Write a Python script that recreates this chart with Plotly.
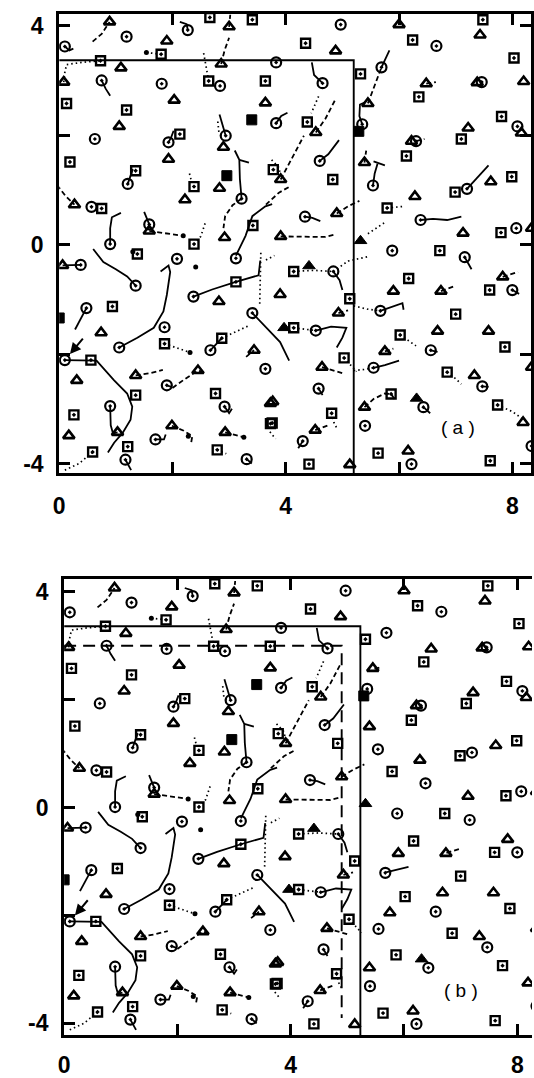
import plotly.graph_objects as go

# ---- particle positions (same configuration in both panels) ----
circ_x = [0.10, 1.19, 2.27, 0.75, 1.81, 2.84, 0.63, 1.93, 2.94, 1.21, 3.22, 0.57, 0.90, 1.59,
          4.97, 6.66, 3.83, 4.65, 5.69, 7.46, 3.83, 5.35, 8.09, 6.30, 5.54, 4.60, 7.20, 4.34, 6.38, 8.07, 5.88,
          0.38, 2.08, 3.12, 1.35, 2.37, 0.48, 1.86, 1.06, 3.41, 2.67, 0.10, 1.90, 2.92, 0.90, 1.70, 1.17, 3.31, 3.64,
          4.84, 4.53, 4.58, 4.30, 7.16, 8.00, 5.67, 6.56, 5.55, 7.47, 6.43, 5.40, 6.22, 8.34]
circ_y = [3.62, 3.80, 3.92, 3.00, 2.94, 2.90, 1.93, 1.87, 1.99, 1.11, 0.84, 0.69, 0.01, 0.37,
          4.02, 3.63, 3.33, 2.95, 3.24, 2.97, 2.22, 2.20, 2.16, 1.89, 1.08, 1.53, 1.02, 0.51, 0.45, 0.30, -0.11,
          -0.37, -0.26, -0.25, -0.75, -0.95, -1.16, -1.51, -1.88, -1.25, -1.93, -2.11, -2.57, -2.96, -2.95, -3.56, -3.93, -3.92, -2.27,
          -0.49, -1.57, -2.63, -3.59, -0.23, -0.83, -1.21, -1.93, -2.25, -2.59, -2.97, -3.31, -4.01, -3.68]

sq_x = [1.80, 2.66, 3.41, 0.73, 2.64, 3.64, 0.13, 1.19, 2.13, 0.19, 1.35, 2.38, 0.75, 2.38, 3.42,
        7.48, 4.35, 6.24, 8.03, 5.32, 6.35, 4.38, 7.81, 7.10, 6.13, 3.78, 4.83, 7.99, 6.99, 5.79, 7.80, 6.72,
        1.38, 3.12, 0.94, 1.86, 2.87, 0.56, 1.35, 2.76, 0.26, 1.21, 0.59, 2.79, 3.73,
        4.14, 5.13, 4.14, 5.03, 4.81, 3.76, 4.41, 6.17, 7.60, 7.00, 6.02, 7.87, 6.85, 5.86, 7.74, 5.63, 7.61]
sq_y = [3.48, 4.15, 4.11, 3.36, 2.99, 2.99, 2.58, 2.46, 2.02, 1.51, 1.35, 1.06, 0.66, 0.01, 0.35,
        4.11, 3.68, 3.74, 3.41, 3.12, 2.70, 2.24, 2.34, 1.93, 1.62, 1.37, 1.19, 1.24, 0.96, 0.67, 0.22, -0.11,
        -0.17, -0.68, -1.13, -1.81, -1.71, -2.11, -2.75, -2.72, -3.11, -3.69, -3.79, -3.75, -3.27,
        -0.49, -0.99, -1.52, -2.07, -3.08, -3.26, -4.01, -0.62, -0.83, -1.27, -1.65, -1.87, -2.33, -2.73, -2.93, -3.81, -3.95]

tri_x = [0.89, 1.90, 3.00, 2.86, 1.09, 0.08, 2.03, 3.64, 1.06, 2.90, 1.93, 2.83, 2.22, 0.27, 1.59, 2.92,
         6.00, 4.88, 7.43, 6.48, 7.38, 8.20, 4.53, 5.45, 8.16, 7.22, 6.22, 5.39, 3.91, 7.62, 6.28, 4.90, 7.13, 3.91, 8.34,
         0.06, 2.82, 0.74, 3.44, 0.31, 1.35, 2.45, 1.03, 0.17, 1.99, 2.93, 3.73,
         3.90, 4.93, 4.64, 3.77, 4.52, 5.13, 7.83, 5.90, 6.74, 6.68, 7.58, 5.75, 7.33, 8.34, 5.39, 8.19, 6.16]
tri_y = [4.07, 3.72, 3.98, 3.30, 3.23, 2.97, 2.64, 2.59, 2.16, 1.78, 1.56, 1.03, 0.82, 0.73, 0.25, 0.13,
         4.02, 3.54, 3.83, 2.94, 2.96, 2.98, 2.05, 2.58, 2.04, 2.13, 1.89, 1.50, 1.19, 1.15, 0.88, 0.57, 0.21, 0.15, 0.30,
         -0.38, -1.04, -1.61, -1.93, -2.48, -2.39, -2.30, -3.43, -3.49, -3.31, -3.43, -2.90,
         -0.91, -1.25, -2.24, -2.87, -3.39, -4.02, -0.59, -0.85, -0.85, -1.58, -1.58, -1.95, -2.39, -2.24, -2.97, -3.25, -3.77]

tri_fill_x = [4.41, 3.97, 6.31, 5.32]
tri_fill_y = [-0.39, -1.52, -2.81, 0.07]
sq_fill_x = [3.40, 0.00, 5.29, 2.96]
sq_fill_y = [2.28, -1.34, 2.07, 1.26]
dot_x = [1.54, 2.19, 2.31, 3.26, 1.30, 2.28, 2.41]
dot_y = [3.51, 0.16, -1.97, -3.52, -0.13, -3.50, -0.41]

# ---- trajectories shared by both panels ----
solid_shared = [
    [(2.27, 3.92), (2.25, 4.03), (2.13, 4.07)],
    [(0.75, 3.00), (0.82, 2.85), (0.90, 2.72)],
    [(2.94, 1.99), (2.88, 2.20), (2.83, 2.38)],
    [(1.93, 1.87), (1.98, 1.97), (2.02, 2.08)],
    [(1.21, 1.11), (1.25, 1.25), (1.30, 1.38)],
    [(3.22, 0.84), (3.19, 1.20), (3.18, 1.55), (3.10, 1.72)],
    [(3.18, 1.55), (3.35, 1.50)],
    [(0.90, 0.01), (0.90, 0.30), (0.93, 0.50), (1.09, 0.58)],
    [(1.50, 0.60), (1.55, 0.48), (1.59, 0.37)],
    [(3.12, -0.20), (3.29, 0.16), (3.41, 0.52), (3.64, 0.70), (3.76, 0.74)],
    [(4.46, 3.33), (4.50, 3.10), (4.65, 2.95)],
    [(3.83, 2.22), (3.92, 2.35), (4.03, 2.41)],
    [(4.60, 1.53), (4.75, 1.65), (4.94, 1.91)],
    [(4.34, 0.51), (4.47, 0.49), (4.61, 0.43)],
    [(0.38, -0.37), (0.06, -0.38)],
    [(0.60, -0.08), (0.78, -0.32), (1.00, -0.45), (1.20, -0.58), (1.35, -0.75)],
    [(1.79, -0.49), (1.93, -0.38), (1.96, -0.50), (1.90, -0.92), (1.84, -1.22), (1.67, -1.52), (1.38, -1.70), (1.06, -1.88)],
    [(2.37, -0.95), (2.70, -0.82), (3.12, -0.68), (3.52, -0.56), (3.55, -0.29)],
    [(0.48, -1.16), (0.38, -1.35), (0.28, -1.55)],
    [(3.41, -1.25), (3.55, -1.40), (3.70, -1.55), (3.90, -1.78), (4.06, -2.12)],
    [(2.67, -1.93), (2.87, -1.71)],
    [(0.10, -2.11), (0.56, -2.11), (0.66, -2.12), (0.97, -2.48), (1.20, -2.72), (1.29, -2.96),
     (1.26, -3.20), (1.12, -3.44), (0.97, -3.62), (0.86, -3.80)],
    [(0.90, -2.95), (0.91, -3.30), (0.95, -3.45), (1.03, -3.43)],
    [(1.70, -3.56), (1.85, -3.56), (1.88, -3.47)],
    [(1.17, -3.93), (1.27, -4.12)],
    [(2.92, -2.96), (3.00, -3.08), (3.05, -3.00)],
    [(3.31, -3.92), (3.40, -4.00)],
    [(4.84, -0.49), (4.95, -0.65), (5.00, -0.83)],
    [(4.53, -1.57), (4.80, -1.50), (5.07, -1.52), (5.00, -1.70), (4.90, -1.88)],
    [(4.30, -3.59), (4.22, -3.72)],
    [(4.58, -2.63), (4.65, -2.75)],
    [(1.90, -2.57), (1.98, -2.60)],
]
dashed_shared = [
    [(0.59, 3.71), (0.75, 3.85), (0.89, 4.07)],
    [(3.00, 3.98), (3.02, 4.20)],
    [(2.86, 3.30), (2.92, 3.55), (3.00, 3.78)],
    [(-0.04, 1.09), (0.12, 0.88), (0.27, 0.73)],
    [(1.59, 0.25), (1.90, 0.20), (2.19, 0.16)],
    [(3.22, 0.84), (3.06, 0.72), (2.93, 0.52), (2.90, 0.30)],
    [(4.53, 2.05), (4.70, 2.30), (4.88, 2.66)],
    [(3.91, 1.19), (4.12, 1.60), (4.32, 1.99)],
    [(4.05, 1.05), (3.88, 0.95), (3.65, 0.73)],
    [(4.90, 0.57), (5.10, 0.70), (5.30, 0.80)],
    [(3.91, 0.15), (4.30, 0.15), (4.70, 0.14), (4.85, 0.18)],
    [(1.35, -2.39), (1.60, -2.35), (1.83, -2.29)],
    [(2.00, -2.62), (2.20, -2.47), (2.45, -2.30), (2.55, -2.33)],
    [(1.99, -3.31), (2.20, -3.40), (2.35, -3.50), (2.33, -3.62)],
    [(2.93, -3.43), (3.26, -3.52)],
    [(3.30, -2.05), (3.44, -1.93)],
    [(4.64, -2.24), (4.85, -2.30), (5.04, -2.36)],
    [(4.52, -3.39), (4.75, -3.30)],
    [(4.93, -1.25), (5.10, -1.20)],
]
dotted_shared = [
    [(0.08, 2.97), (0.10, 3.15), (0.13, 3.29), (0.40, 3.33), (0.73, 3.36)],
    [(1.54, 3.51), (1.80, 3.48)],
    [(2.55, 3.50), (2.60, 3.20), (2.64, 2.99)],
    [(2.80, 2.25), (2.82, 2.05), (2.88, 1.96)],
    [(2.30, 1.30), (2.33, 1.18)],
    [(2.38, 0.01), (2.50, 0.15), (2.58, 0.40)],
    [(4.58, 2.71), (4.45, 2.40)],
    [(3.75, 1.55), (3.87, 1.42), (3.92, 1.25)],
    [(1.86, -1.81), (2.10, -1.90), (2.31, -1.97)],
    [(2.87, -1.71), (3.10, -1.60), (3.35, -1.48)],
    [(3.56, -0.15), (3.55, -0.60), (3.54, -1.10)],
    [(0.10, -4.12), (0.35, -4.00), (0.59, -3.79)],
    [(2.79, -3.75), (2.95, -3.82)],
    [(4.14, -0.49), (4.50, -0.47), (4.84, -0.49)],
    [(4.14, -1.52), (4.53, -1.57)],
    [(5.03, -2.07), (5.15, -2.20), (5.25, -2.32)],
    [(4.81, -3.08), (4.85, -3.25), (4.90, -3.35)],
    [(3.72, -3.42), (3.82, -3.55)],
    [(3.65, -0.28), (3.80, -0.20)],
]

# ---- trajectories drawn only in panel (a) ----
solid_a = [
    [(0.10, 3.62), (0.18, 3.55), (0.25, 3.58)],
    [(5.69, 3.24), (5.76, 3.40), (5.83, 3.55)],
    [(5.35, 2.20), (5.30, 2.35), (5.31, 2.56), (5.40, 2.60)],
    [(5.54, 1.08), (5.57, 1.30), (5.62, 1.48)],
    [(5.55, 1.52), (5.75, 1.45)],
    [(7.20, 1.02), (7.40, 1.25), (7.58, 1.45)],
    [(6.38, 0.45), (6.60, 0.47), (6.85, 0.45), (7.10, 0.51)],
    [(5.67, -1.21), (5.85, -1.15), (6.06, -1.07), (6.08, -1.19)],
    [(5.55, -2.25), (5.75, -2.20), (6.00, -2.12)],
    [(6.43, -2.97), (6.55, -3.08)],
    [(7.16, -0.23), (7.28, -0.45)],
    [(8.00, -0.83), (8.12, -0.90)],
    [(6.56, -1.93), (6.68, -1.96)],
    [(7.47, -2.59), (7.58, -2.60)],
]
dashed_a = [
    [(5.45, 2.58), (5.55, 2.85), (5.69, 3.24)],
    [(5.39, 1.50), (5.42, 1.72)],
    [(5.39, -2.97), (5.55, -2.82), (5.75, -2.72), (5.86, -2.73), (5.92, -2.82)],
    [(6.74, -0.85), (7.00, -0.75)],
    [(7.83, -0.59), (8.10, -0.50)],
    [(5.75, -1.95), (5.90, -1.90)],
    [(6.48, 2.94), (6.65, 2.97)],
    [(6.30, 1.89), (6.45, 1.93)],
]
dotted_a = [
    [(5.79, 0.67), (6.10, 0.70)],
    [(5.45, 0.20), (5.74, 0.40)],
    [(5.20, -1.12), (5.45, -1.18), (5.67, -1.21)],
    [(6.02, -1.65), (6.15, -1.75), (6.30, -1.85)],
    [(6.85, -2.33), (7.00, -2.45), (7.10, -2.55)],
    [(7.74, -2.93), (8.00, -3.05), (8.20, -3.20)],
    [(5.20, -2.30), (5.40, -2.28), (5.55, -2.25)],
    [(4.84, -0.49), (5.10, -0.30), (5.45, -0.22)],
]

# ---- trajectories drawn only in panel (b) ----
solid_b = [[(5.68, -1.20), (5.90, -1.14), (6.08, -1.10)]]
dashed_b = [[(6.75, -0.84), (7.00, -0.76)], [(5.48, 2.57), (5.58, 2.60)]]

# region outlines
box_a = [(0.0, 3.37), (5.20, 3.37), (5.20, -4.40)]
box_b = [(0.0, 3.36), (5.23, 3.36), (5.23, -4.40)]
dash_box_b = [(0.0, 3.00), (4.90, 3.00), (4.90, -3.90)]

# arrow (tail -> head) and panel labels
arrow_tail = (0.44, -1.69)
arrow_head = (0.19, -2.00)
labels = ["( a )", "( b )"]
label_pos = [(7.04, -3.35), (7.00, -3.40)]

tick_vals = [-4, -2, 0, 2, 4]
tick_text = ["-4", "", "0", "", "4"]
xtick_vals = [0, 2, 4, 6, 8]
xtick_text = ["0", "", "4", "", "8"]


def join(paths):
    xs, ys = [], []
    for p in paths:
        for x, y in p:
            xs.append(x)
            ys.append(y)
        xs.append(None)
        ys.append(None)
    return xs, ys


fig = go.Figure()


def add_lines(paths, dash, width, xa, ya):
    xs, ys = join(paths)
    fig.add_trace(go.Scatter(x=xs, y=ys, mode="lines", xaxis=xa, yaxis=ya,
                             line=dict(color="black", width=width, dash=dash),
                             hoverinfo="skip"))


def add_markers(xs, ys, symbol, size, lw, xa, ya):
    fig.add_trace(go.Scatter(x=xs, y=ys, mode="markers", xaxis=xa, yaxis=ya,
                             marker=dict(symbol=symbol, size=size, color="black",
                                         line=dict(color="black", width=lw)),
                             hoverinfo="skip"))


panels = [
    ("x", "y", solid_a, dashed_a, dotted_a, box_a),
    ("x2", "y2", solid_b, dashed_b, [], box_b),
]
for xa, ya, s_extra, d_extra, t_extra, box in panels:
    add_lines([box], "solid", 1.9, xa, ya)
    if xa == "x2":
        add_lines([dash_box_b], "12px,7px", 1.9, xa, ya)
    add_lines(solid_shared + s_extra, "solid", 1.8, xa, ya)
    add_lines(dashed_shared + d_extra, "5px,3px", 1.8, xa, ya)
    add_lines(dotted_shared + t_extra, "1.5px,3px", 1.7, xa, ya)
    add_markers(circ_x, circ_y, "circle-open-dot", 10, 2.2, xa, ya)
    add_markers(sq_x, sq_y, "square-open-dot", 9, 2.4, xa, ya)
    add_markers(tri_x, tri_y, "triangle-up-open", 10, 2.6, xa, ya)
    add_markers(tri_fill_x, tri_fill_y, "triangle-up", 11, 1, xa, ya)
    add_markers(sq_fill_x, sq_fill_y, "square", 10, 1, xa, ya)
    add_markers(dot_x, dot_y, "circle", 5, 0, xa, ya)

tick_font = dict(family="Liberation Sans, Arial, sans-serif", size=23, color="black", weight="bold")
axis_common = dict(showgrid=False, zeroline=False, showline=True, linewidth=3, linecolor="black",
                   ticks="inside", ticklen=11, tickwidth=2.5, tickcolor="black",
                   tickfont=tick_font, fixedrange=True)

H = 1078.0
W = 534.0
fig.update_layout(
    width=534, height=1078, margin=dict(l=0, r=0, t=0, b=0),
    paper_bgcolor="white", plot_bgcolor="white", showlegend=False,
    xaxis=dict(domain=[54 / W, 533 / W], range=[0, 8.33], anchor="y", mirror="ticks",
               tickvals=xtick_vals, ticktext=xtick_text, ticklabelstandoff=10, **axis_common),
    yaxis=dict(domain=[(H - 478) / H, (H - 13) / H], range=[-4.177, 4.217], anchor="x", mirror="ticks",
               tickvals=tick_vals, ticktext=tick_text, ticklabelstandoff=8, **axis_common),
    xaxis2=dict(domain=[59 / W, 1.0], range=[0, 8.26], anchor="y2", mirror="ticks",
                tickvals=xtick_vals, ticktext=xtick_text, ticklabelstandoff=7, **axis_common),
    yaxis2=dict(domain=[(H - 1047) / H, (H - 585) / H], range=[-4.223, 4.238], anchor="x2", mirror=False,
                tickvals=tick_vals, ticktext=tick_text, ticklabelstandoff=8, **axis_common),
)

annotations = []
for xr, yr in (("x", "y"), ("x2", "y2")):
    annotations.append(dict(x=arrow_head[0], y=arrow_head[1], ax=arrow_tail[0], ay=arrow_tail[1],
                            xref=xr, yref=yr, axref=xr, ayref=yr, text="", showarrow=True,
                            arrowhead=2, arrowsize=1.1, arrowwidth=2, arrowcolor="black"))
for (lx, ly), txt, xr, yr in zip(label_pos, labels, ("x", "x2"), ("y", "y2")):
    annotations.append(dict(x=lx, y=ly, xref=xr, yref=yr, text=txt, showarrow=False,
                            font=dict(family="Liberation Sans, Arial, sans-serif", size=19, color="black")))
fig.update_layout(annotations=annotations)

fig.write_html("out.html")
